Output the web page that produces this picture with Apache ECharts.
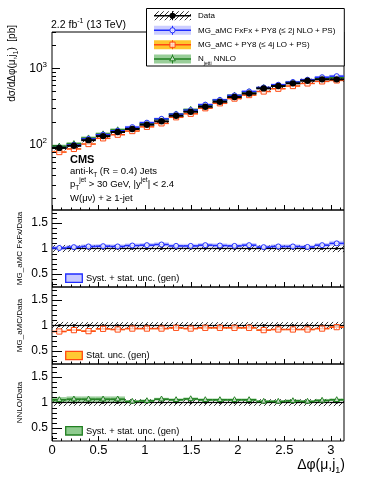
<!DOCTYPE html>
<html>
<head>
<meta charset="utf-8">
<script src="https://cdn.jsdelivr.net/npm/echarts@6/dist/echarts.min.js"></script>
<style>
html, body { margin: 0; padding: 0; background: #fff; }
#chart { width: 374px; height: 484px; }
</style>
</head>
<body>
<div id="chart"></div>
<script>
// binning in delta phi (20 bins from 0 to pi)
const nBins = 20
const binEdges = Array.from({length: nBins + 1}, (_, i) => i * Math.PI / nBins)

// measured cross section [pb] and relative uncertainties
const dataXsec = [91, 97, 115, 130, 147, 161, 183, 203, 240, 271, 315, 366, 422, 469, 548, 588, 638, 690, 720, 720]
const dataSyst = [0.07, 0.065, 0.065, 0.065, 0.065, 0.065, 0.065, 0.065, 0.065, 0.065, 0.065, 0.065, 0.065, 0.065, 0.065, 0.065, 0.065, 0.065, 0.07, 0.07]
const dataStat = [0.02, 0.02, 0.02, 0.02, 0.02, 0.02, 0.02, 0.02, 0.02, 0.02, 0.02, 0.02, 0.02, 0.02, 0.02, 0.02, 0.02, 0.02, 0.02, 0.02]

// predictions / data
const fxfxRatio = [1.01, 1.026, 1.04, 1.045, 1.04, 1.058, 1.065, 1.078, 1.05, 1.05, 1.065, 1.058, 1.05, 1.065, 1.026, 1.04, 1.04, 1.03, 1.065, 1.1]
const fxfxUnc = [0.04, 0.04, 0.04, 0.04, 0.04, 0.04, 0.04, 0.04, 0.04, 0.04, 0.04, 0.04, 0.04, 0.04, 0.04, 0.04, 0.04, 0.04, 0.04, 0.045]
const loRatio = [0.883, 0.91, 0.89, 0.935, 0.922, 0.94, 0.94, 0.94, 0.955, 0.94, 0.955, 0.955, 0.955, 0.955, 0.91, 0.922, 0.922, 0.922, 0.94, 0.968]
const loUnc = [0.012, 0.012, 0.012, 0.012, 0.012, 0.012, 0.012, 0.012, 0.012, 0.012, 0.012, 0.012, 0.012, 0.012, 0.012, 0.012, 0.012, 0.012, 0.012, 0.012]
const nnloRatio = [1.052, 1.065, 1.065, 1.065, 1.065, 1.02, 1.032, 1.065, 1.052, 1.07, 1.052, 1.052, 1.052, 1.052, 1.02, 1.02, 1.032, 1.02, 1.04, 1.052]
const nnloUnc = [0.05, 0.05, 0.05, 0.05, 0.05, 0.025, 0.025, 0.025, 0.025, 0.025, 0.025, 0.025, 0.025, 0.025, 0.025, 0.025, 0.025, 0.025, 0.025, 0.025]

// axis ticks
const xMajorTicks = [0, 0.5, 1, 1.5, 2, 2.5, 3]
const xMinorTicks = []
for (let k = 1; k <= 31; k++) { if (k % 5) xMinorTicks.push(k / 10) }
const logMajorTicks = [100, 1000]
const logMinorTicks = [20, 30, 40, 50, 60, 70, 80, 90, 200, 300, 400, 500, 600, 700, 800, 900, 2000, 3000]
const ratioMajorTicks = [0.5, 1, 1.5]
const ratioMinorTicks = [0.3, 0.4, 0.6, 0.7, 0.8, 0.9, 1.1, 1.2, 1.3, 1.4, 1.6, 1.7]

const FONT = '"Liberation Sans", Arial, Helvetica, sans-serif'
const BLUE = '#1f2cff', BLUE_BAND = 'rgba(120,125,255,0.38)'
const ORANGE = '#ff4a12', ORANGE_BAND = '#ffc52e'
const GREEN = '#217f21', GREEN_BAND = 'rgba(70,165,70,0.55)'

function hatchCanvas () {
  const c = document.createElement('canvas')
  c.width = 5; c.height = 5
  const g = c.getContext('2d')
  g.strokeStyle = '#000'
  g.lineWidth = 0.8
  g.beginPath()
  g.moveTo(-1, 6); g.lineTo(6, -1)
  g.moveTo(-1, 1); g.lineTo(1, -1)
  g.moveTo(4, 6); g.lineTo(6, 4)
  g.stroke()
  return c
}
const HATCH = {image: hatchCanvas(), repeat: 'repeat'}

function marker (kind, x, y, r, col) {
  if (kind === 'dot') return {type: 'circle', shape: {cx: x, cy: y, r: r}, style: {fill: col}}
  if (kind === 'circle') return {type: 'circle', shape: {cx: x, cy: y, r: r}, style: {fill: 'rgba(255,255,255,0.8)', stroke: col, lineWidth: 1}}
  if (kind === 'square') return {type: 'rect', shape: {x: x - r, y: y - r, width: 2 * r, height: 2 * r}, style: {fill: 'rgba(255,255,255,0.7)', stroke: col, lineWidth: 1}}
  return {type: 'polygon', shape: {points: [[x, y - r * 1.2], [x - r, y + r * 0.65], [x + r, y + r * 0.65]]}, style: {fill: 'rgba(255,255,255,0.7)', stroke: col, lineWidth: 1}}
}

// items: [x0, x1, value, bandLo, bandHi, errLo, errHi]
function items (vals, rel, errRel) {
  return vals.map((v, i) => [binEdges[i], binEdges[i + 1], v, v * (1 - rel[i]), v * (1 + rel[i]),
    v * (1 - (errRel ? errRel[i] : 0)), v * (1 + (errRel ? errRel[i] : 0))])
}

function binSeries (gi, data, st) {
  return {
    type: 'custom', xAxisIndex: gi, yAxisIndex: gi, clip: true, silent: true,
    z: st.z || 2,
    encode: {x: [0, 1], y: [2, 3, 4]},
    data: data,
    renderItem: function (params, api) {
      const x0 = api.value(0), x1 = api.value(1), v = api.value(2)
      const a = api.coord([x0, v]), b = api.coord([x1, v])
      const xc = (a[0] + b[0]) / 2
      const kids = []
      if (st.band) {
        const t = api.coord([x0, api.value(4)]), u = api.coord([x1, api.value(3)])
        kids.push({type: 'rect', shape: {x: t[0], y: t[1], width: u[0] - t[0], height: u[1] - t[1]}, style: {fill: st.band}})
      }
      if (st.line) {
        kids.push({type: 'line', shape: {x1: a[0], y1: a[1], x2: b[0], y2: b[1]}, style: {stroke: st.line, lineWidth: st.lw || 1.5}})
      }
      if (st.err) {
        const p = api.coord([x0, api.value(5)]), q = api.coord([x0, api.value(6)])
        kids.push({type: 'line', shape: {x1: xc, y1: p[1], x2: xc, y2: q[1]}, style: {stroke: st.err, lineWidth: 1}})
      }
      if (st.marker) kids.push(marker(st.marker, xc, a[1], st.size || 2.6, st.mcol))
      return {type: 'group', children: kids}
    }
  }
}

function yMinor (gi, vals, len) {
  return {
    type: 'custom', xAxisIndex: gi, yAxisIndex: gi, silent: true, z: 5,
    encode: {x: 0, y: 1},
    data: vals.map(v => [0, v]),
    renderItem: function (params, api) {
      const cs = params.coordSys
      const y = Math.round(api.coord([0, api.value(1)])[1]) + 0.5
      return {type: 'line', shape: {x1: cs.x, y1: y, x2: cs.x + len, y2: y}, style: {stroke: '#000', lineWidth: 1}}
    }
  }
}

function xMinor (gi, yRef, len) {
  return {
    type: 'custom', xAxisIndex: gi, yAxisIndex: gi, silent: true, z: 5,
    encode: {x: 0, y: 1},
    data: xMinorTicks.map(v => [v, yRef]),
    renderItem: function (params, api) {
      const cs = params.coordSys
      const x = Math.round(api.coord([api.value(0), yRef])[0]) + 0.5
      return {type: 'line', shape: {x1: x, y1: cs.y + cs.height, x2: x, y2: cs.y + cs.height - len}, style: {stroke: '#000', lineWidth: 1}}
    }
  }
}

const ones = dataXsec.map(() => 1)
const fxfxXsec = dataXsec.map((v, i) => v * fxfxRatio[i])
const loXsec = dataXsec.map((v, i) => v * loRatio[i])
const nnloXsec = dataXsec.map((v, i) => v * nnloRatio[i])

const grids = [
  {left: 52, top: 32, width: 292, height: 178},
  {left: 52, top: 210, width: 292, height: 77},
  {left: 52, top: 287, width: 292, height: 77},
  {left: 52, top: 364, width: 292, height: 77}
].map(g => Object.assign(g, {show: true, borderColor: '#000', borderWidth: 1, backgroundColor: 'transparent'}))

const xAxes = grids.map((g, i) => ({
  type: 'value', gridIndex: i, min: 0, max: Math.PI,
  axisLine: {show: false}, splitLine: {show: false},
  axisTick: {inside: true, length: 5, customValues: xMajorTicks, lineStyle: {color: '#000'}},
  axisLabel: {show: i === 3, customValues: xMajorTicks, margin: 3, fontSize: 13, color: '#000', fontFamily: FONT,
    formatter: v => String(v)}
}))

const yAxes = [{
  type: 'log', gridIndex: 0, min: 14, max: 3000,
  axisLine: {show: false}, splitLine: {show: false},
  axisTick: {inside: true, length: 8, customValues: logMajorTicks, lineStyle: {color: '#000'}},
  axisLabel: {customValues: logMajorTicks, margin: 5, color: '#000',
    formatter: v => '{b|10}{s|' + Math.round(Math.log10(v)) + '}',
    rich: {
      b: {fontSize: 12, fontFamily: FONT, color: '#000', lineHeight: 16},
      s: {fontSize: 8, fontFamily: FONT, color: '#000', lineHeight: 9, verticalAlign: 'top'}
    }}
}]
for (let i = 1; i <= 3; i++) {
  yAxes.push({
    type: 'value', gridIndex: i, min: 0.25, max: 1.75,
    axisLine: {show: false}, splitLine: {show: false},
    axisTick: {inside: true, length: 10, customValues: ratioMajorTicks, lineStyle: {color: '#000'}},
    axisLabel: {customValues: ratioMajorTicks, margin: 4, fontSize: 12, color: '#000', fontFamily: FONT,
      formatter: v => String(v)}
  })
}

const series = [
  // main panel
  binSeries(0, items(dataXsec, dataSyst), {band: HATCH, z: 2}),
  binSeries(0, items(fxfxXsec, fxfxUnc), {band: BLUE_BAND, z: 2}),
  binSeries(0, items(loXsec, loUnc), {band: ORANGE_BAND, z: 2}),
  binSeries(0, items(nnloXsec, nnloUnc), {band: GREEN_BAND, z: 2}),
  binSeries(0, items(loXsec, loUnc), {line: ORANGE, lw: 1.5, marker: 'square', size: 2.6, mcol: ORANGE, z: 3}),
  binSeries(0, items(nnloXsec, nnloUnc), {line: GREEN, lw: 1.5, marker: 'tri', size: 2.6, mcol: GREEN, z: 3}),
  binSeries(0, items(fxfxXsec, fxfxUnc), {line: BLUE, lw: 1.5, marker: 'circle', size: 2.5, mcol: BLUE, z: 3}),
  binSeries(0, items(dataXsec, dataSyst, dataStat), {line: '#000', lw: 2, err: '#000', marker: 'dot', size: 3.2, mcol: '#000', z: 4}),
  // ratio FxFx
  binSeries(1, items(ones, dataSyst), {band: HATCH, z: 2}),
  binSeries(1, items(fxfxRatio, fxfxUnc), {band: BLUE_BAND, z: 2}),
  binSeries(1, items(ones, dataSyst, dataStat), {line: '#000', lw: 1.2, err: '#000', marker: 'dot', size: 1.3, mcol: '#000', z: 3}),
  binSeries(1, items(fxfxRatio, fxfxUnc), {line: BLUE, lw: 1.6, marker: 'circle', size: 2.5, mcol: BLUE, z: 4}),
  // ratio LO
  binSeries(2, items(ones, dataSyst), {band: HATCH, z: 2}),
  binSeries(2, items(loRatio, loUnc), {band: ORANGE_BAND, z: 2}),
  binSeries(2, items(ones, dataSyst, dataStat), {line: '#000', lw: 1.2, err: '#000', marker: 'dot', size: 1.3, mcol: '#000', z: 3}),
  binSeries(2, items(loRatio, loUnc), {line: ORANGE, lw: 1.6, marker: 'square', size: 2.6, mcol: ORANGE, z: 4}),
  // ratio NNLO
  binSeries(3, items(ones, dataSyst), {band: HATCH, z: 2}),
  binSeries(3, items(nnloRatio, nnloUnc), {band: GREEN_BAND, z: 2}),
  binSeries(3, items(ones, dataSyst, dataStat), {line: '#000', lw: 1.2, err: '#000', marker: 'dot', size: 1.3, mcol: '#000', z: 3}),
  binSeries(3, items(nnloRatio, nnloUnc), {line: GREEN, lw: 1.6, marker: 'tri', size: 2.6, mcol: GREEN, z: 4}),
  // minor ticks
  yMinor(0, logMinorTicks, 4),
  yMinor(1, ratioMinorTicks, 5),
  yMinor(2, ratioMinorTicks, 5),
  yMinor(3, ratioMinorTicks, 5),
  xMinor(0, 100, 2.5),
  xMinor(1, 1, 2.5),
  xMinor(2, 1, 2.5),
  xMinor(3, 1, 2.5)
]

// text helpers
function txt (x, y, text, size, extra) {
  return Object.assign({type: 'text', x: x, y: y, z: 100,
    style: Object.assign({text: text, font: size + 'px ' + FONT, fill: '#000', align: 'left', verticalAlign: 'middle'}, extra || {})})
}
function richTxt (x, y, text, size, subSize, extra) {
  return txt(x, y, text, size, Object.assign({
    rich: {
      a: {fontSize: size, fontFamily: FONT, lineHeight: size + 6, verticalAlign: 'middle', fill: '#000'},
      s: {fontSize: subSize, fontFamily: FONT, lineHeight: subSize + 1, verticalAlign: 'bottom', fill: '#000'},
      u: {fontSize: subSize, fontFamily: FONT, lineHeight: subSize + 1, verticalAlign: 'top', fill: '#000'}
    }
  }, extra || {}))
}

// legend symbols
const legRows = [15.7, 30.3, 44.7, 59]
const lx0 = 154, lx1 = 191, lxc = (lx0 + lx1) / 2
function legSym (y, band, line, kind, col, r) {
  const els = [
    {type: 'rect', z: 101, shape: {x: lx0, y: y - 4.5, width: lx1 - lx0, height: 9}, style: {fill: band}},
    {type: 'line', z: 102, shape: {x1: lx0, y1: y, x2: lx1, y2: y}, style: {stroke: line, lineWidth: 1.6}},
    {type: 'line', z: 102, shape: {x1: lxc, y1: y - 4.5, x2: lxc, y2: y + 4.5}, style: {stroke: line, lineWidth: 1}}
  ]
  const m = marker(kind, lxc, y, r, col)
  m.z = 103
  els.push(m)
  return els
}
function uncBox (y, fill, stroke) {
  return {type: 'rect', z: 101, shape: {x: 65.7, y: y - 4.2, width: 16.6, height: 8.4}, style: {fill: fill, stroke: stroke, lineWidth: 1.3}}
}

const graphics = [
  richTxt(51, 25.5, '{a|2.2 fb}{u|-1}{a| (13 TeV)}', 10.5, 7),
  {type: 'rect', z: 99, shape: {x: 146.5, y: 8.5, width: 197.8, height: 57.5}, style: {fill: '#fff', stroke: '#000', lineWidth: 1}},
  ...legSym(legRows[0], HATCH, '#000', 'dot', '#000', 3),
  ...legSym(legRows[1], BLUE_BAND, BLUE, 'circle', BLUE, 2.6),
  ...legSym(legRows[2], ORANGE_BAND, ORANGE, 'square', ORANGE, 2.6),
  ...legSym(legRows[3], GREEN_BAND, GREEN, 'tri', GREEN, 2.8),
  txt(198, legRows[0], 'Data', 8),
  txt(198, legRows[1], 'MG_aMC FxFx + PY8 (\u2264 2j NLO + PS)', 8),
  txt(198, legRows[2], 'MG_aMC + PY8 (\u2264 4j LO + PS)', 8),
  richTxt(198, legRows[3], '{a|N}{s|jetti}{a| NNLO}', 8, 5),
  // labels in main panel
  txt(70, 160, 'CMS', 11, {font: 'bold 11px ' + FONT}),
  richTxt(70, 171, '{a|anti-k}{s|T}{a| (R = 0.4) Jets}', 9.5, 6.5),
  richTxt(70, 184, '{a|p}{s|T}{u|jet}{a| > 30 GeV, |y}{u|jet}{a|| < 2.4}', 9.5, 6.5),
  txt(70, 198.5, 'W(\u03bc\u03bd) + \u2265 1-jet', 9.5),
  // axis titles
  richTxt(12, 25, '{a|d\u03c3/d\u0394\u03c6(\u03bc,j}{s|1}{a|)  [pb]}', 10, 7, {align: 'right'}),
  txt(20, 248.5, 'MG_aMC FxFx/Data', 8, {align: 'center'}),
  txt(20, 325.5, 'MG_aMC/Data', 8, {align: 'center'}),
  txt(20, 402.5, 'NNLO/Data', 8, {align: 'center'}),
  richTxt(345, 465, '{a|\u0394\u03c6(\u03bc,j}{s|1}{a|)}', 14, 9, {align: 'right'}),
  // ratio legends
  uncBox(278.2, '#c8caff', BLUE),
  txt(86, 278.5, 'Syst. + stat. unc. (gen)', 9.3),
  uncBox(355.5, '#ffc933', ORANGE),
  txt(86, 355.8, 'Stat. unc. (gen)', 9.3),
  uncBox(430.8, '#8fcb8f', GREEN),
  txt(86, 431, 'Syst. + stat. unc. (gen)', 9.3)
]
// rotate the axis titles
graphics.forEach(g => {
  if (g.type === 'text' && g.x <= 20) g.rotation = Math.PI / 2
})

const chart = echarts.init(document.getElementById('chart'), null, {renderer: 'canvas'})
chart.setOption({
  animation: false,
  backgroundColor: '#fff',
  grid: grids,
  xAxis: xAxes,
  yAxis: yAxes,
  series: series,
  graphic: graphics
})
</script>
</body>
</html>
